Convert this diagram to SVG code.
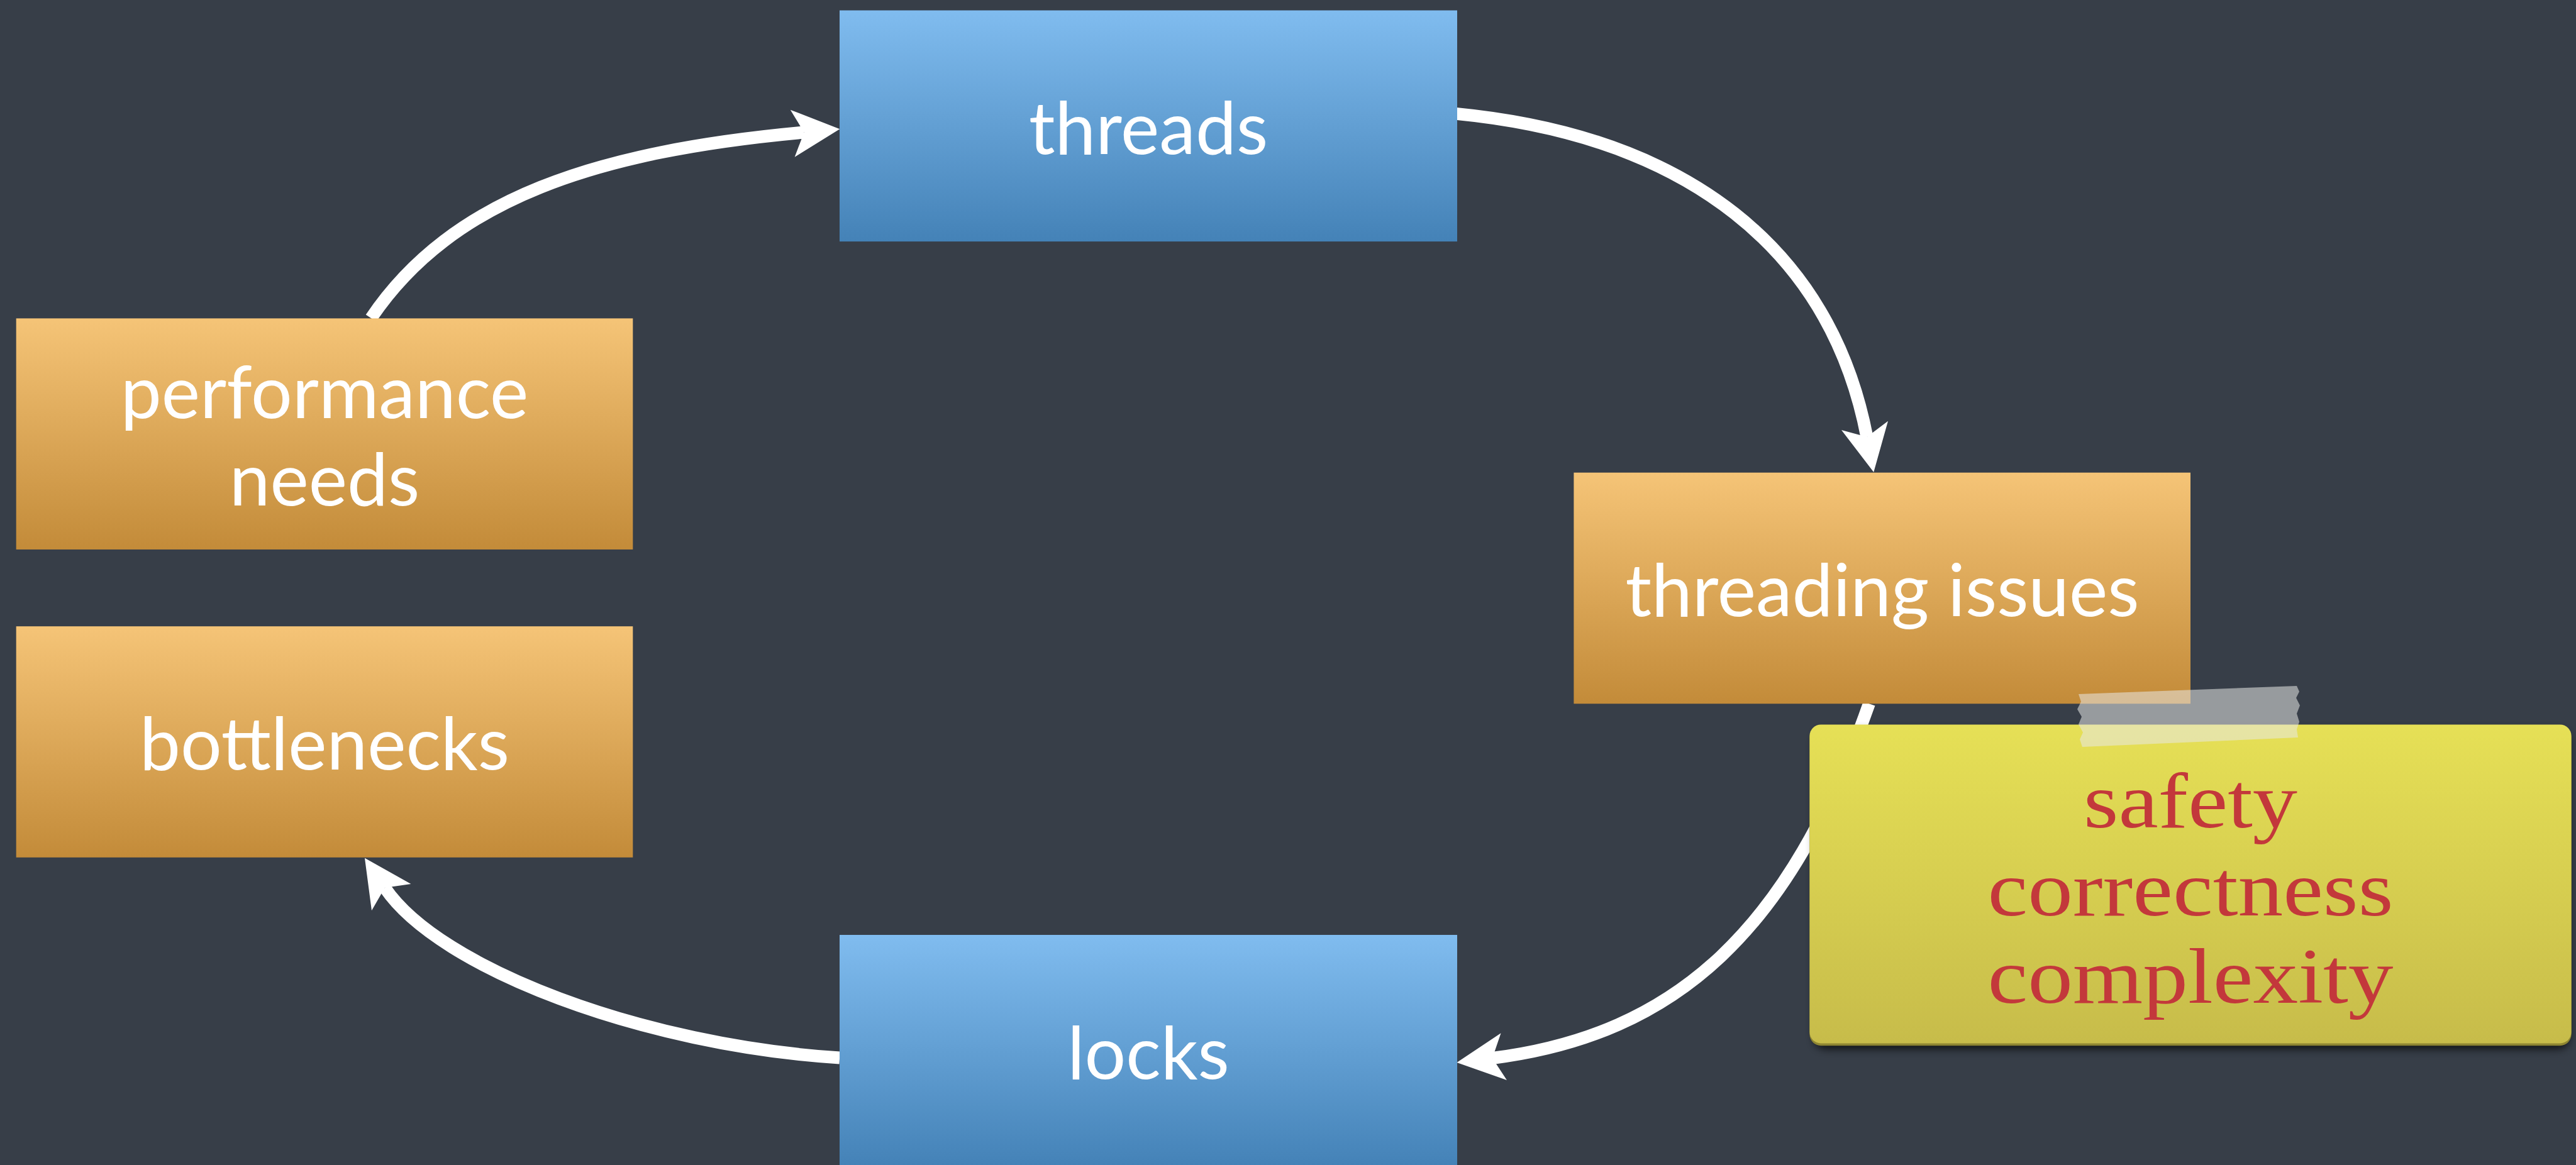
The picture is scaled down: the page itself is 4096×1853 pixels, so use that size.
<svg xmlns="http://www.w3.org/2000/svg" width="4096" height="1853" viewBox="0 0 4096 1853">
  <defs>
    <linearGradient id="gBlue" x1="0" y1="0" x2="0" y2="1">
      <stop offset="0" stop-color="#80bcef"/>
      <stop offset="1" stop-color="#4482b7"/>
    </linearGradient>
    <linearGradient id="gOrange" x1="0" y1="0" x2="0" y2="1">
      <stop offset="0" stop-color="#f5c477"/>
      <stop offset="1" stop-color="#c38b39"/>
    </linearGradient>
    <linearGradient id="gNote" x1="0" y1="0" x2="0" y2="1">
      <stop offset="0" stop-color="#e6e056"/>
      <stop offset="1" stop-color="#c7bc4a"/>
    </linearGradient>
    <filter id="noteShadow" x="-5%" y="-5%" width="110%" height="125%">
      <feGaussianBlur stdDeviation="7"/>
    </filter>
    <marker id="head" markerUnits="userSpaceOnUse" orient="auto" refX="18.4" refY="0" markerWidth="80" markerHeight="80" overflow="visible">
      <path d="M0,-37.7 L75.4,0 L0,37.7 L18.4,0 Z" fill="#ffffff"/>
    </marker>
  </defs>
  <style>
    .box-label { font-family: Lato, "Open Sans", sans-serif; font-size: 116px; fill: #ffffff; text-anchor: middle; }
    .note-label { font-family: "Liberation Serif", "DejaVu Serif", serif; font-size: 124px; fill: #c3383b; text-anchor: middle; }
    .conn { fill: none; stroke: #ffffff; stroke-width: 20; stroke-linecap: butt; marker-end: url(#head); }
    .blue { fill: url(#gBlue); }
    .orange { fill: url(#gOrange); }
  </style>

  <rect x="0" y="0" width="4096" height="1853" fill="#373e48"/>

  <!-- cycle arrows -->
  <g id="connectors">
    <path class="conn" d="M590,506 C719,315 949.8,240.5 1278.5,210.5"/>
    <path class="conn" d="M2315.4,180.9 C2682.6,216.7 2911,396.5 2968.5,695"/>
    <path class="conn" d="M2972,1119.3 C2846.9,1477.1 2667.6,1645.9 2373,1683"/>
    <path class="conn" d="M1335.1,1682.5 C1024.7,1662.9 699.3,1541.2 611.9,1412"/>
  </g>

  <g id="threads">
    <rect class="blue" x="1335" y="16.5" width="982" height="367.6"/>
    <text class="box-label" x="1826" y="245">threads</text>
  </g>

  <g id="threading-issues">
    <rect class="orange" x="2502.4" y="751.7" width="980.6" height="367.6"/>
    <text class="box-label" x="2993" y="980">threading issues</text>
  </g>

  <g id="locks">
    <rect class="blue" x="1335" y="1487" width="982" height="368"/>
    <text class="box-label" x="1826" y="1715.5">locks</text>
  </g>

  <g id="performance-needs">
    <rect class="orange" x="25.7" y="506.4" width="980.6" height="367.6"/>
    <text class="box-label" x="516" y="664.5">performance</text>
    <text class="box-label" x="516" y="804">needs</text>
  </g>

  <g id="bottlenecks">
    <rect class="orange" x="25.7" y="996.2" width="980.6" height="367.6"/>
    <text class="box-label" x="516" y="1224">bottlenecks</text>
  </g>

  <!-- sticky note taped below "threading issues" -->
  <g id="note">
    <rect x="2885" y="1162" width="1200" height="506" rx="18" fill="#000000" opacity="0.75" filter="url(#noteShadow)"/>
    <rect x="2877.4" y="1155" width="1211.2" height="508.2" rx="18" fill="#8f8632"/>
    <rect x="2877.4" y="1152.4" width="1211.2" height="507" rx="18" fill="url(#gNote)"/>
    <text class="note-label" x="3483" y="1316" textLength="340" lengthAdjust="spacingAndGlyphs">safety</text>
    <text class="note-label" x="3483" y="1456" textLength="645" lengthAdjust="spacingAndGlyphs">correctness</text>
    <text class="note-label" x="3483" y="1595" textLength="645" lengthAdjust="spacingAndGlyphs">complexity</text>
  </g>

  <g id="tape">
    <path d="M3305,1104 L3652,1091 L3656,1100 L3651,1110 L3657,1122 L3652,1135 L3656,1148 L3652,1160 L3654,1173 L3311,1188 L3307,1176 L3312,1165 L3305,1152 L3310,1140 L3303,1128 L3309,1116 Z" fill="#e8e8e6" opacity="0.55"/>
  </g>
</svg>
